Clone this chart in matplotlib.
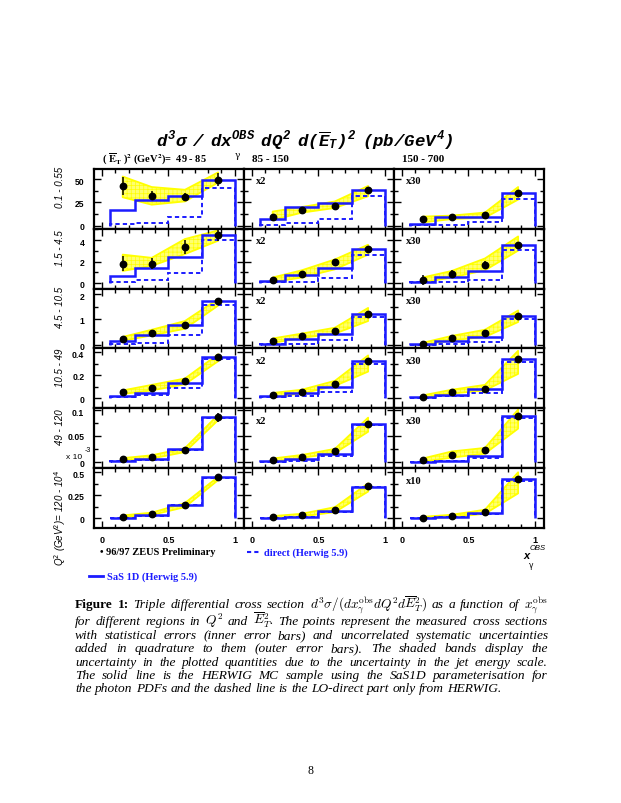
import matplotlib
matplotlib.use("Agg")
import matplotlib.pyplot as plt
from matplotlib.ticker import FixedLocator, MultipleLocator, AutoMinorLocator
from matplotlib.lines import Line2D
from matplotlib.transforms import ScaledTranslation

# ---------------- data ----------------
bin_edges = [0.0625, 0.25, 0.5, 0.75, 1.0]
bin_centers = [0.156, 0.375, 0.625, 0.875]

et_ranges = ["49 - 85", "85 - 150", "150 - 700"]
q2_ranges = ["0.1 - 0.55", "1.5 - 4.5", "4.5 - 10.5", "10.5 - 49", "49 - 120", "120 - 10$^4$"]
scale_c2 = ["x2", "x2", "x2", "x2", "x2", ""]
scale_c3 = ["x30", "x30", "x30", "x30", "x30", "x10"]

yticks_rows = [[0, 25, 50], [0, 2, 4], [0, 1, 2], [0, 0.2, 0.4], [0, 0.05, 0.1], [0, 0.25, 0.5]]
ytick_labels_rows = [["0", "25", "50"], ["0", "2", "4"], ["0", "1", "2"],
                     ["0", "0.2", "0.4"], ["0", "0.05", "0.1"], ["0", "0.25", "0.5"]]
ylims_rows = [(-3.2, 60.5), (-0.52, 5.05), (-0.13, 2.2), (-0.088, 0.43), (-0.011, 0.1025), (-0.107, 0.545)]
xticks = [0, 0.5, 1]
xtick_labels = ["0", "0.5", "1"]

# column 1 : Et^2 49-85
pts_c1 = [[42.4, 32.2, 30.8, 48.9], [1.8, 1.8, 3.36, 4.43], [0.23, 0.49, 0.78, 1.71],
          [0.055, 0.091, 0.145, 0.357], [0.006, 0.0104, 0.0226, 0.0854], [0.018, 0.048, 0.14, 0.445]]
err_c1 = [[9.4, 5.0, 4.5, 7.0], [0.7, 0.5, 0.65, 0.5], [0.03, 0.03, 0.04, 0.12],
          [0.005, 0.006, 0.008, 0.02], [0.001, 0.0012, 0.0015, 0.008], [0.005, 0.006, 0.01, 0.02]]
blo_c1 = [[30.4, 22.5, 26, 46], [1.13, 1.6, 2.7, 3.94], [0.17, 0.38, 0.64, 1.54],
          [0.036, 0.067, 0.12, 0.32], [0.004, 0.0073, 0.0195, 0.08], [0.01, 0.035, 0.12, 0.415]]
bhi_c1 = [[52.5, 41.3, 38.4, 56.9], [2.65, 2.35, 4.1, 4.9], [0.32, 0.6, 0.94, 1.8],
          [0.067, 0.115, 0.17, 0.38], [0.008, 0.0134, 0.027, 0.09], [0.03, 0.06, 0.165, 0.45]]
sas_c1 = [[17, 27, 31.5, 49], [0.67, 1.43, 2.41, 4.49], [0.17, 0.38, 0.78, 1.71],
          [0.015, 0.045, 0.127, 0.357], [0.003, 0.0055, 0.0244, 0.0854], [0.007, 0.03, 0.147, 0.445]]
dir_c1 = [[1.8, 2.5, 9.8, 40], [0.09, 0.24, 0.98, 3.97], [0.04, 0.1, 0.38, 1.58],
          [0.006, 0.024, 0.085, 0.342], [0.002, 0.004, 0.0226, 0.0835], [0.0, 0.022, 0.14, 0.437]]

# column 2 : Et^2 85-150
pts_c2 = [[9.4, 17, 21, 37.7], [0.3, 0.89, 1.95, 3.18], [0.17, 0.36, 0.55, 1.2],
          [0.03, 0.055, 0.12, 0.32], [0.0043, 0.0104, 0.0213, 0.0726], [0.011, 0.03, 0.085, 0.35]]
err_c2 = [[1.5, 1.5, 2.0, 2.5], [0.1, 0.1, 0.25, 0.15], [0.03, 0.03, 0.04, 0.06],
          [0.005, 0.005, 0.008, 0.015], [0.0008, 0.001, 0.0015, 0.003], [0.004, 0.005, 0.01, 0.015]]
blo_c2 = [[6.2, 14, 19, 31.5], [0.09, 0.52, 1.28, 2.65], [0.09, 0.28, 0.45, 0.94],
          [0.01, 0.04, 0.106, 0.23], [0.002, 0.0085, 0.0177, 0.058], [0.0, 0.018, 0.066, 0.29]]
bhi_c2 = [[15.2, 20, 26, 42.4], [0.52, 1.19, 2.2, 3.57], [0.26, 0.45, 0.68, 1.45],
          [0.045, 0.073, 0.15, 0.37], [0.0073, 0.014, 0.0256, 0.0848], [0.022, 0.048, 0.12, 0.38]]
sas_c2 = [[7.2, 19.6, 24.3, 37.7], [0.21, 0.73, 1.43, 3.18], [0.06, 0.23, 0.45, 1.2],
          [0.015, 0.045, 0.097, 0.32], [0.0024, 0.0055, 0.0152, 0.0726], [0.004, 0.018, 0.074, 0.342]]
dir_c2 = [[0.7, 2.5, 7.2, 31.9], [0.06, 0.06, 0.46, 2.6], [0.03, 0.06, 0.19, 1.09],
          [0.006, 0.02, 0.05, 0.3], [0.0012, 0.003, 0.0122, 0.07], [0.0, 0.011, 0.066, 0.335]]

# column 3 : Et^2 150-700
pts_c3 = [[6.9, 9.1, 11.6, 35.1], [0.27, 0.89, 1.68, 3.57], [0.05, 0.26, 0.47, 1.15],
          [0.012, 0.055, 0.082, 0.342], [0.0043, 0.0146, 0.0226, 0.088], [0.004, 0.022, 0.066, 0.423]]
err_c3 = [[1.5, 1.0, 1.2, 3.0], [0.45, 0.3, 0.4, 0.3], [0.02, 0.03, 0.05, 0.07],
          [0.004, 0.006, 0.008, 0.02], [0.0008, 0.001, 0.0015, 0.004], [0.004, 0.005, 0.008, 0.02]]
blo_c3 = [[3.6, 7.2, 8.7, 27.9], [0.06, 0.52, 1.19, 3.02], [0.01, 0.19, 0.32, 0.9],
          [0.006, 0.04, 0.067, 0.21], [0.0012, 0.009, 0.0165, 0.064], [0.0, 0.011, 0.048, 0.27]]
bhi_c3 = [[9.8, 10.9, 14.1, 41.3], [0.52, 1.13, 2.29, 4.34], [0.09, 0.36, 0.6, 1.35],
          [0.024, 0.073, 0.115, 0.41], [0.0073, 0.0207, 0.0274, 0.1], [0.015, 0.037, 0.092, 0.5]]
sas_c3 = [[1.8, 9.1, 9.8, 35.1], [0.12, 0.52, 1.13, 3.57], [0.04, 0.17, 0.32, 1.15],
          [0.006, 0.03, 0.082, 0.34], [0.0012, 0.003, 0.0122, 0.088], [0.0, 0.015, 0.059, 0.423]]
dir_c3 = [[0.7, 0.7, 3.6, 29], [0.06, 0.06, 0.3, 3.08], [0.0, 0.03, 0.13, 1.03],
          [0.0, 0.015, 0.045, 0.31], [0.0006, 0.0024, 0.0085, 0.085], [0.0, 0.011, 0.048, 0.408]]

columns = [
    (pts_c1, err_c1, blo_c1, bhi_c1, sas_c1, dir_c1, None),
    (pts_c2, err_c2, blo_c2, bhi_c2, sas_c2, dir_c2, scale_c2),
    (pts_c3, err_c3, blo_c3, bhi_c3, sas_c3, dir_c3, scale_c3),
]

# ---------------- style ----------------
plt.rcParams["mathtext.rm"] = "Liberation Mono:bold:italic"
plt.rcParams["mathtext.it"] = "Liberation Mono:bold:italic"
plt.rcParams["mathtext.bf"] = "Liberation Mono:bold:italic"
plt.rcParams["hatch.linewidth"] = 0.5

BLUE = "#1c1cff"
W, H = 621, 804
fig = plt.figure(figsize=(W / 100, H / 100), dpi=100)


def fx(px):
    return px / W


def fy(py):
    return 1 - py / H


col_left = [94, 244, 394]
panel_w = 150
row_top0 = 170
row_h = 59.83

for r in range(6):
    top = row_top0 + r * row_h
    for c in range(3):
        pts, err, blo, bhi, sas, dirr, scl = columns[c]
        ax = fig.add_axes([fx(col_left[c]), fy(top + row_h), panel_w / W, row_h / H])
        ax.set_xlim(-0.06, 1.07)
        ax.set_ylim(*ylims_rows[r])
        ax.fill_between(bin_centers, blo[r], bhi[r], facecolor="#ffff70", edgecolor="#ffff00",
                        hatch="++++", linewidth=1.3, zorder=1)
        ax.stairs(dirr[r], bin_edges, baseline=0, color=BLUE, lw=1.4, ls=(0, (2.2, 1.6)), zorder=2)
        ax.stairs(sas[r], bin_edges, baseline=0, color=BLUE, lw=1.8, zorder=3)
        ax.errorbar(bin_centers, pts[r], yerr=err[r], fmt="o", color="black", ms=4.6,
                    elinewidth=1.1, capsize=0, zorder=5)
        for s in ax.spines.values():
            s.set_linewidth(1.6)
        ax.xaxis.set_major_locator(FixedLocator(xticks))
        ax.xaxis.set_minor_locator(MultipleLocator(0.1))
        ax.yaxis.set_major_locator(FixedLocator(yticks_rows[r]))
        ax.yaxis.set_minor_locator(AutoMinorLocator(2))
        ax.tick_params(which="both", direction="in", top=True, right=True, width=1.0)
        ax.tick_params(which="major", length=5)
        ax.tick_params(which="minor", length=3)
        if c == 0:
            labs = ax.set_yticklabels(ytick_labels_rows[r], fontsize=6.2, fontweight="bold",
                                      family="Liberation Sans")
            ax.tick_params(axis="y", pad=7)
            # nudge the top label of each row slightly down, the bottom one slightly up
            labs[-1].set_transform(labs[-1].get_transform() + ScaledTranslation(0, -1.5 / 100, fig.dpi_scale_trans))
        else:
            ax.set_yticklabels([])
        if r == 5:
            ax.set_xticklabels(xtick_labels, fontsize=6.5, fontweight="bold", family="Liberation Sans")
            ax.tick_params(axis="x", pad=5)
        else:
            ax.set_xticklabels([])
        if scl is not None and scl[r]:
            fig.text(fx(col_left[c] + 12), fy(top + 12), scl[r], fontsize=7.5, fontweight="bold",
                     family="Liberation Serif", va="center", ha="left")
    # row label
    if r < 5:
        fig.text(fx(60), fy(top + row_h / 2 - 12), q2_ranges[r], rotation=90, ha="center",
                 va="center", fontsize=7, style="italic", family="Liberation Sans",
                 math_fontfamily="dejavusans")
    else:
        fig.text(fx(60), fy(top + 1), "Q$^2$ (GeV$^2$)= " + q2_ranges[r], rotation=90, ha="center",
                 va="top", fontsize=7, style="italic", family="Liberation Sans",
                 math_fontfamily="dejavusans")

# x 10^-3 for row 5
fig.text(fx(66), fy(458), "x 10", fontsize=6, family="Liberation Sans", va="center", ha="left")
fig.text(fx(85), fy(451), "-3", fontsize=5, family="Liberation Sans", va="center", ha="left")

# ---------------- title and headers ----------------
fig.text(fx(305), fy(141),
         r"$d^3\sigma\ \ /\ \ dx^{OBS}\ \ dQ^2\ \ d(\overline{E}_T)^2\ \ (pb/GeV^4)$",
         ha="center", va="center", fontsize=12.5, math_fontfamily="custom")
fig.text(fx(237), fy(156), "γ", fontsize=6.5, family="DejaVu Serif", ha="center", va="center")

fig.text(fx(102), fy(159),
         r"( $\overline{\mathbf{E}}_{\mathbf{T}}$ )$^{\mathbf{2}}$ (GeV$^{\mathbf{2}}$)=  " + et_ranges[0],
         fontsize=7.5, fontweight="bold", family="Liberation Serif", va="center", ha="left",
         math_fontfamily="stix")
fig.text(fx(252), fy(159), et_ranges[1], fontsize=8, fontweight="bold", family="Liberation Serif",
         va="center", ha="left")
fig.text(fx(402), fy(159), et_ranges[2], fontsize=8, fontweight="bold", family="Liberation Serif",
         va="center", ha="left")

# ---------------- legend ----------------
fig.text(fx(100), fy(553), "• 96/97 ZEUS Preliminary", fontsize=7.5, fontweight="bold",
         family="Liberation Serif", va="center", ha="left")
fig.add_artist(Line2D([fx(247), fx(261)], [fy(553), fy(553)], color=BLUE, lw=1.5, ls=(0, (2, 1.5))))
fig.text(fx(264), fy(553), "direct (Herwig 5.9)", fontsize=7.5, fontweight="bold", color=BLUE,
         family="Liberation Serif", va="center", ha="left")
fig.add_artist(Line2D([fx(89), fx(103)], [fy(577), fy(577)], color=BLUE, lw=2.0))
fig.text(fx(107), fy(577), "SaS 1D (Herwig 5.9)", fontsize=7.5, fontweight="bold", color=BLUE,
         family="Liberation Serif", va="center", ha="left")
fig.text(fx(523), fy(556), "x", fontsize=8, fontweight="bold", style="italic",
         family="Liberation Sans", va="center", ha="left")
fig.text(fx(530), fy(549), "OBS", fontsize=5.5, style="italic", family="Liberation Sans",
         va="center", ha="left")
fig.text(fx(529), fy(565), "γ", fontsize=5.5, family="DejaVu Sans", va="center", ha="left")

# ---------------- caption ----------------
cap_lines = [
    ("Figure 1:  Triple differential cross section "
     r"$d^3\sigma/(dx_\gamma^{\mathrm{obs}}dQ^2d\overline{E}_T^2)$ as a function of $x_\gamma^{\mathrm{obs}}$", 608, True),
    (r"for different regions in $Q^2$ and $\overline{E}_T^2$. The points represent the measured cross sections", 625, True),
    ("with statistical errors (inner error bars) and uncorrelated systematic uncertainties", 639, True),
    ("added in quadrature to them (outer error bars).  The shaded bands display the", 652.5, True),
    ("uncertainty in the plotted quantities due to the uncertainty in the jet energy scale.", 666, True),
    ("The solid line is the HERWIG MC sample using the SaS1D parameterisation for", 679, True),
    ("the photon PDFs and the dashed line is the LO-direct part only from HERWIG.", 692, False),
]
cap_x0, cap_x1 = 75, 548
renderer = fig.canvas.get_renderer()
for li, (line, y, justify) in enumerate(cap_lines):
    words = line.split()
    objs = []
    for wi, w in enumerate(words):
        if li == 0 and wi < 2:
            kw = dict(family="Liberation Serif", fontweight="bold")
        else:
            kw = dict(family="Liberation Serif", style="italic")
        t = fig.text(0, fy(y), w, fontsize=9.6, va="baseline", ha="left", math_fontfamily="cm", **kw)
        objs.append(t)
    widths = [t.get_window_extent(renderer).width for t in objs]
    if justify and len(objs) > 1:
        gap = (cap_x1 - cap_x0 - sum(widths)) / (len(objs) - 1)
    else:
        gap = 3.4
    x = cap_x0
    for t, wdt in zip(objs, widths):
        t.set_x(fx(x))
        x += wdt + gap

fig.text(fx(310), fy(774), "8", fontsize=8.5, family="Liberation Serif", ha="center", va="baseline")

fig.savefig("out.png", dpi=100, facecolor="white")
